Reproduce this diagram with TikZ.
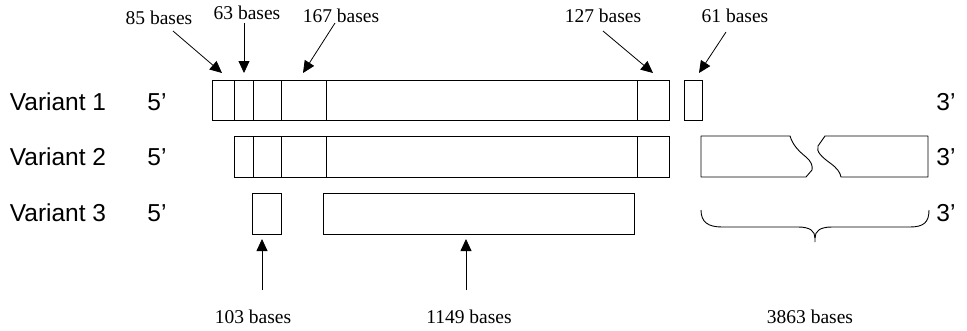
\documentclass[tikz,border=0pt]{standalone}
\usepackage{fontspec}
\setmainfont{Liberation Serif}
\newfontfamily\labfont{Liberation Sans}
\usetikzlibrary{arrows.meta}
\begin{document}
\begin{tikzpicture}[x=1pt,y=-1pt,
  seg/.style={draw, line width=0.9pt, rectangle, inner sep=0pt, outer sep=0pt, anchor=north west},
  varlab/.style={font=\labfont\fontsize{24.5}{28}\selectfont, inner sep=0pt},
  baselab/.style={font=\fontsize{19.5}{22}\selectfont, inner sep=0pt},
  pointer/.style={line width=0.8pt, -{Triangle[length=12pt,width=11pt]}},
  brace/.style={line width=0.9pt}]
\useasboundingbox (0,0) rectangle (967,330);

% Variant labels
\node[varlab] (v1) at (58,102) {Variant 1};
\node[varlab] (v2) at (58,157) {Variant 2};
\node[varlab] (v3) at (58,213) {Variant 3};
\node[varlab] (f1) at (157,102) {5’};
\node[varlab] (f2) at (157,157) {5’};
\node[varlab] (f3) at (157,213) {5’};
\node[varlab] (t1) at (946,102) {3’};
\node[varlab] (t2) at (946,157) {3’};
\node[varlab] (t3) at (946,213) {3’};

% Row 1
\node[seg, minimum width=22pt, minimum height=40pt] (r1a) at (212,80) {};
\node[seg, minimum width=19pt, minimum height=40pt] (r1b) at (234,80) {};
\node[seg, minimum width=28pt, minimum height=40pt] (r1c) at (253,80) {};
\node[seg, minimum width=45pt, minimum height=40pt] (r1d) at (281,80) {};
\node[seg, minimum width=311pt, minimum height=40pt] (r1e) at (326,80) {};
\node[seg, minimum width=32pt, minimum height=40pt] (r1f) at (637,80) {};
\node[seg, minimum width=18pt, minimum height=40pt] (r1g) at (684,80) {};

% Row 2
\node[seg, minimum width=19pt, minimum height=41pt] (r2b) at (234,136) {};
\node[seg, minimum width=28pt, minimum height=41pt] (r2c) at (253,136) {};
\node[seg, minimum width=45pt, minimum height=41pt] (r2d) at (281,136) {};
\node[seg, minimum width=311pt, minimum height=41pt] (r2e) at (326,136) {};
\node[seg, minimum width=32pt, minimum height=41pt] (r2f) at (637,136) {};
\draw[line width=0.9pt, line join=round] (701,136) -- (790,136)
  .. controls (793,146) and (800,152) .. (806,157)
  .. controls (811,161) and (813,166) .. (812,170) -- (806,177) -- (701,177) -- cycle;
\draw[line width=0.9pt, line join=round] (928,136) -- (825,136) -- (818,146)
  .. controls (816,152) and (822,157) .. (830,163)
  .. controls (837,168) and (840,172) .. (841,177) -- (928,177) -- cycle;

% Row 3
\node[seg, minimum width=29pt, minimum height=41pt] (r3b) at (252,193) {};
\node[seg, minimum width=311pt, minimum height=41pt] (r3e) at (323,193) {};
\draw[brace] (701,210) .. controls (701,222) and (708,227) .. (722,227) -- (798,227)
  .. controls (810,227) and (815,231) .. (815,238) -- (815,242);
\draw[brace] (815,238) .. controls (815,231) and (820,227) .. (832,227) -- (910,227)
  .. controls (924,227) and (929,222) .. (929,210);

% Top labels and arrows
\node[baselab] (l85) at (159,18) {85 bases};
\node[baselab] (l63) at (247,13) {63 bases};
\node[baselab] (l167) at (341,16) {167 bases};
\node[baselab] (l127) at (603,16) {127 bases};
\node[baselab] (l61) at (735,16) {61 bases};
\coordinate (a85s) at (173,31);  \coordinate (a85e) at (222,73);
\coordinate (a63s) at (244,23);  \coordinate (a63e) at (244,73);
\coordinate (a167s) at (335,23); \coordinate (a167e) at (303,73);
\coordinate (a127s) at (603,31); \coordinate (a127e) at (653,73);
\coordinate (a61s) at (726,32);  \coordinate (a61e) at (699,73);
\draw[pointer] (a85s) -- (a85e);
\draw[pointer] (a63s) -- (a63e);
\draw[pointer] (a167s) -- (a167e);
\draw[pointer] (a127s) -- (a127e);
\draw[pointer] (a61s) -- (a61e);

% Bottom labels and arrows
\node[baselab] (l103) at (253,317) {103 bases};
\node[baselab] (l1149) at (469,317) {1149 bases};
\node[baselab] (l3863) at (810,317) {3863 bases};
\coordinate (b103s) at (262,290); \coordinate (b103e) at (262,239);
\coordinate (b1149s) at (466,290); \coordinate (b1149e) at (466,239);
\draw[pointer] (b103s) -- (b103e);
\draw[pointer] (b1149s) -- (b1149e);
\end{tikzpicture}
\end{document}
